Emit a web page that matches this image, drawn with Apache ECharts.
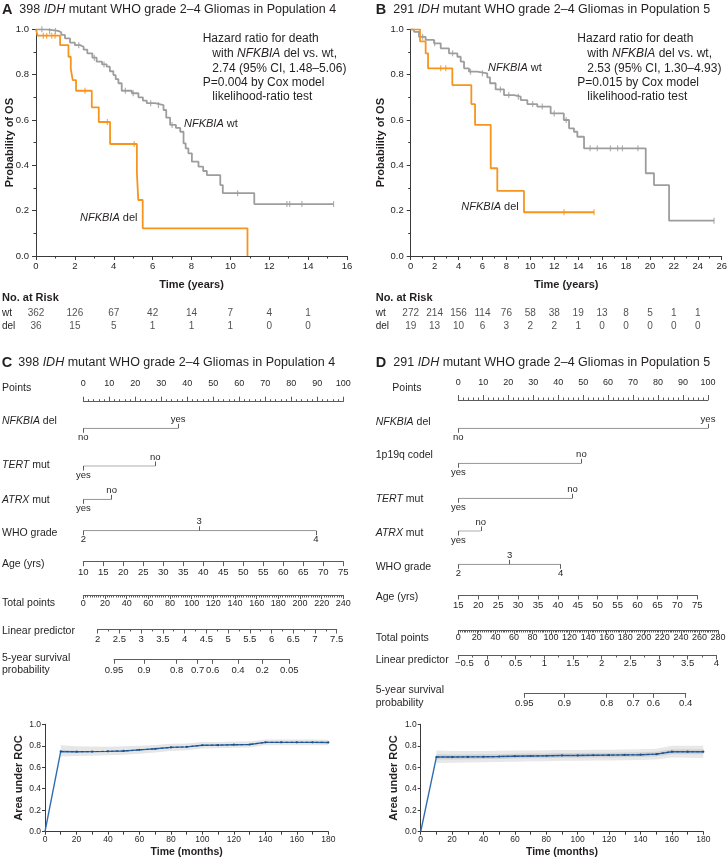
<!DOCTYPE html>
<html><head><meta charset="utf-8">
<script src="https://cdn.jsdelivr.net/npm/echarts@6/dist/echarts.min.js"></script>
<style>html,body{margin:0;padding:0;background:#fff}#c{width:727px;height:858px}</style>
</head><body><div id="c"></div>
<script>
const FONT = '"Liberation Sans", Arial, Helvetica, sans-serif';
const TXT = '#231f20';
const AX = '#3a3a3a';
const NAX = '#5c5c5c';
const ORANGE = '#f7941d';
const GRAY = '#9d9d9d';
const BLUE = '#2f6db3';

// ---------- Panel A: Kaplan-Meier ----------
const kmA_wt_t = [0,0.55,1.14,1.30,1.49,1.75,2.00,2.27,2.45,2.64,2.90,3.12,3.40,3.64,3.80,3.98,4.10,4.24,4.41,4.93,5.27,5.50,5.70,6.13,6.56,6.70,6.90,7.20,7.42,7.59,7.70,7.84,8.02,8.36,8.60,8.79,9.48,9.61,11.23];
const kmA_wt_s = [1.0,0.993,0.987,0.975,0.960,0.941,0.930,0.923,0.910,0.894,0.875,0.857,0.845,0.835,0.815,0.798,0.780,0.762,0.729,0.718,0.700,0.685,0.674,0.666,0.644,0.610,0.578,0.565,0.548,0.497,0.475,0.453,0.416,0.394,0.375,0.357,0.313,0.277,0.229];
const kmA_wt_end = 15.31;
const kmA_wt_cens = [0.3,0.7,1.0,2.2,3.0,3.5,4.6,5.0,5.9,6.3,7.0,10.37,12.91,13.05,13.68,15.31];
const kmA_del_t = [0,0.08,1.24,1.67,1.79,1.89,2.06,2.87,3.23,3.81,5.19,5.26,5.49,10.88];
const kmA_del_s = [1.0,0.972,0.930,0.879,0.825,0.776,0.729,0.656,0.591,0.494,0.370,0.247,0.122,0];
const kmA_del_end = 10.88;
const kmA_del_cens = [0.38,0.55,0.81,0.98,2.52,3.67,5.05];

// ---------- Panel B: Kaplan-Meier ----------
const kmB_wt_t = [0,0.28,0.69,1.25,1.95,2.51,3.20,3.90,4.18,4.46,4.87,5.57,6.40,6.63,7.10,7.80,8.64,9.20,9.75,10.58,11.70,12.80,13.24,13.65,13.93,14.49,19.65,20.34,21.60];
const kmB_wt_s = [1.0,0.989,0.967,0.953,0.938,0.916,0.894,0.879,0.857,0.828,0.813,0.806,0.788,0.762,0.735,0.710,0.703,0.688,0.670,0.659,0.629,0.600,0.563,0.548,0.526,0.475,0.365,0.313,0.156];
const kmB_wt_end = 25.36;
const kmB_wt_cens = [1.0,2.0,3.5,5.0,6.0,7.5,8.2,9.0,10.2,11.0,12.0,13.0,15.0,15.6,16.7,17.3,17.7,19.0,25.36];
const kmB_del_t = [0,0.78,1.25,1.45,3.48,5.07,5.38,6.69,7.24,9.47];
const kmB_del_s = [1.0,0.947,0.894,0.828,0.754,0.670,0.578,0.387,0.287,0.193];
const kmB_del_end = 15.33;
const kmB_del_cens = [2.51,2.93,12.82,15.33];

// ---------- Numbers at risk ----------
const riskA_times = [0,2,4,6,8,10,12,14];
const riskA_wt = [362,126,67,42,14,7,4,1];
const riskA_del = [36,15,5,1,1,1,0,0];
const riskB_times = [0,2,4,6,8,10,12,14,16,18,20,22,24];
const riskB_wt = [272,214,156,114,76,58,38,19,13,8,5,1,1];
const riskB_del = [19,13,10,6,3,2,2,1,0,0,0,0,0];
const riskRows = ['wt','del'];

// ---------- Nomogram C ----------
const nomC_nfkbia_levels = ['no','yes'];   const nomC_nfkbia_pts = [0,36.5];
const nomC_tert_levels = ['yes','no'];     const nomC_tert_pts = [0,27.7];
const nomC_atrx_levels = ['yes','no'];     const nomC_atrx_pts = [0,10.9];
const nomC_who_levels = ['2','3','4'];     const nomC_who_pts = [0,44.6,89.5];
const nomC_surv_labels = ['0.95','0.9','0.8','0.7','0.6','0.4','0.2','0.05'];
const nomC_surv_lp = [2.375,3.066,3.818,4.301,4.647,5.229,5.788,6.410];

// ---------- Nomogram D ----------
const nomD_nfkbia_levels = ['no','yes'];   const nomD_nfkbia_pts = [0,100];
const nomD_codel_levels = ['yes','no'];    const nomD_codel_pts = [0,49.3];
const nomD_tert_levels = ['yes','no'];     const nomD_tert_pts = [0,45.7];
const nomD_atrx_levels = ['yes','no'];     const nomD_atrx_pts = [0,9.0];
const nomD_who_levels = ['2','3','4'];     const nomD_who_pts = [0,20.6,41.0];
const nomD_surv_labels = ['0.95','0.9','0.8','0.7','0.6','0.4'];
const nomD_surv_lp = [0.651,1.349,2.088,2.552,2.901,3.466];

// ---------- Time-dependent AUC ----------
const rocMonths = [0,10,20,30,40,50,60,70,80,90,100,110,120,130,140,150,160,170,180];
const rocC_auc = [0,0.747,0.745,0.746,0.748,0.752,0.762,0.772,0.785,0.790,0.805,0.806,0.810,0.812,0.832,0.832,0.832,0.832,0.831];
const rocC_lo = [0.700,0.705,0.708,0.712,0.716,0.725,0.737,0.752,0.758,0.774,0.776,0.781,0.784,0.805,0.805,0.805,0.805,0.805];
const rocC_hi = [0.805,0.795,0.793,0.792,0.795,0.800,0.807,0.818,0.822,0.835,0.836,0.839,0.840,0.858,0.858,0.858,0.858,0.857];
const rocD_auc = [0,0.695,0.695,0.697,0.698,0.700,0.703,0.705,0.707,0.710,0.710,0.712,0.713,0.715,0.717,0.722,0.745,0.745,0.745];
const rocD_lo = [0.640,0.642,0.645,0.647,0.649,0.652,0.655,0.657,0.660,0.660,0.662,0.664,0.666,0.668,0.673,0.690,0.688,0.686];
const rocD_hi = [0.756,0.752,0.752,0.752,0.753,0.755,0.757,0.758,0.760,0.760,0.762,0.763,0.765,0.767,0.772,0.800,0.800,0.800];
const rocD_lo2 = [0.672,0.673,0.675,0.676,0.678,0.681,0.683,0.685,0.688,0.688,0.690,0.691,0.693,0.695,0.700,0.722,0.722,0.722];
const rocD_hi2 = [0.720,0.718,0.719,0.720,0.722,0.725,0.727,0.729,0.732,0.732,0.734,0.735,0.737,0.739,0.744,0.768,0.768,0.768];

// ================= builders =================
const grids = [], xAxes = [], yAxes = [], series = [], graphics = [];
const addGrid = g => { grids.push(Object.assign({containLabel:false, outerBoundsMode:'none'}, g)); return grids.length-1; };
const addX = a => { xAxes.push(a); return xAxes.length-1; };
const addY = a => { yAxes.push(a); return yAxes.length-1; };
const lbl = (size, extra) => Object.assign({fontFamily:FONT, fontSize:size, color:TXT}, extra||{});

function kmPath(ts, ss, end){
  const d = [[ts[0], ss[0]]];
  for (let i=1;i<ts.length;i++){ d.push([ts[i], ss[i-1]]); d.push([ts[i], ss[i]]); }
  if (end > ts[ts.length-1]) d.push([end, ss[ss.length-1]]);
  return d;
}
function kmAt(ts, ss, t){ let s = ss[0]; for (let i=0;i<ts.length;i++) if (ts[i] <= t) s = ss[i]; return s; }

function kmPanel(o){
  const g = addGrid({left:o.left, top:29.3, width:311, height:226.7});
  const x = addX({gridIndex:g, type:'value', min:0, max:o.xmax, interval:2,
    name:'Time (years)', nameLocation:'middle', nameGap:23, nameMoveOverlap:false,
    nameTextStyle:lbl(11,{fontWeight:'bold'}),
    axisLine:{show:true, onZero:false, lineStyle:{color:AX, width:1}},
    axisTick:{show:true, length:4, lineStyle:{color:AX}},
    minorTick:{show:true, splitNumber:2, length:2.5, lineStyle:{color:AX}},
    axisLabel:lbl(9.5,{margin:5}), splitLine:{show:false}, minorSplitLine:{show:false}});
  const y = addY({gridIndex:g, type:'value', min:0, max:1, interval:0.2,
    name:'Probability of OS', nameLocation:'middle', nameRotate:90, nameGap:o.nameGap, nameMoveOverlap:false,
    nameTextStyle:lbl(11,{fontWeight:'bold'}),
    axisLine:{show:true, onZero:false, lineStyle:{color:AX, width:1}},
    axisTick:{show:true, length:4, lineStyle:{color:AX}},
    minorTick:{show:true, splitNumber:2, length:2.5, lineStyle:{color:AX}},
    axisLabel:lbl(9.5,{margin:7, formatter:v=>v.toFixed(1)}), splitLine:{show:false}, minorSplitLine:{show:false}});
  const curves = [
    {t:o.wt_t, s:o.wt_s, end:o.wt_end, c:o.wt_c, col:GRAY},
    {t:o.del_t, s:o.del_s, end:o.del_end, c:o.del_c, col:ORANGE}
  ];
  curves.forEach(cv => {
    series.push({type:'line', xAxisIndex:x, yAxisIndex:y, data:kmPath(cv.t, cv.s, cv.end), symbol:'none',
      lineStyle:{color:cv.col, width:1.8}, silent:true, z:3});
    series.push({type:'scatter', xAxisIndex:x, yAxisIndex:y, data:cv.c.map(t=>[t, kmAt(cv.t, cv.s, t)]),
      symbol:'rect', symbolSize:[1.2,6], itemStyle:{color:cv.col}, silent:true, z:4});
  });
}
kmPanel({left:36, xmax:16, nameGap:21, wt_t:kmA_wt_t, wt_s:kmA_wt_s, wt_end:kmA_wt_end, wt_c:kmA_wt_cens,
  del_t:kmA_del_t, del_s:kmA_del_s, del_end:kmA_del_end, del_c:kmA_del_cens});
kmPanel({left:410.7, xmax:26, nameGap:24, wt_t:kmB_wt_t, wt_s:kmB_wt_s, wt_end:kmB_wt_end, wt_c:kmB_wt_cens,
  del_t:kmB_del_t, del_s:kmB_del_s, del_end:kmB_del_end, del_c:kmB_del_cens});

function riskTable(left, xmax, times, wt, del, margin){
  const g = addGrid({left:left, top:313.3, width:311, height:12.7});
  const x = addX({gridIndex:g, type:'value', min:0, max:xmax, show:false});
  const y = addY({gridIndex:g, type:'category', data:riskRows, inverse:true, boundaryGap:false,
    axisLine:{show:false}, axisTick:{show:false}, splitLine:{show:false},
    axisLabel:lbl(10,{align:'left', margin:margin, interval:0, hideOverlap:false})});
  const data = [];
  times.forEach((t,i)=>{ data.push([t,0,wt[i]]); data.push([t,1,del[i]]); });
  series.push({type:'scatter', xAxisIndex:x, yAxisIndex:y, data, symbolSize:1, itemStyle:{color:'rgba(0,0,0,0)'},
    label:lbl(10,{show:true, position:'inside', formatter:p=>String(p.value[2])}), silent:true});
}
riskTable(36, 16, riskA_times, riskA_wt, riskA_del, 34);
riskTable(410.7, 26, riskB_times, riskB_wt, riskB_del, 35);

// ---------- nomogram scales ----------
function scaleAxis(o){
  const g = addGrid({left:o.left, top:o.y, width:o.width, height:0});
  const ax = {gridIndex:g, type:'value', min:o.min, max:o.max, position:o.pos||'bottom',
    axisLine:{show:true, onZero:false, lineStyle:{color:NAX, width:1}},
    axisTick:{show:true, length:o.tick||4.5, lineStyle:{color:NAX}},
    minorTick:{show:!!o.minor, splitNumber:o.minor||5, length:2.5, lineStyle:{color:NAX}},
    axisLabel:lbl(o.fs||9,{margin:o.margin, showMinLabel:true, showMaxLabel:true, hideOverlap:false}),
    splitLine:{show:false}, minorSplitLine:{show:false}};
  if (o.interval != null) ax.interval = o.interval;
  if (o.custom){ ax.axisTick.customValues = o.custom; ax.axisLabel.customValues = o.custom; }
  if (o.fmt) ax.axisLabel.formatter = o.fmt;
  if (o.rich) ax.axisLabel.rich = o.rich;
  addX(ax);
  addY({gridIndex:g, type:'value', show:false, min:0, max:1});
}
function nearestLabel(positions, labels){
  return v => { let b = 0; positions.forEach((p,i)=>{ if (Math.abs(p-v) < Math.abs(positions[b]-v)) b = i; }); return labels[b]; };
}
function catRow(o){
  const g = addGrid({left:o.left, top:o.y, width:o.width, height:0});
  const order = o.pts.map((p,i)=>i).sort((a,b)=>o.pts[a]-o.pts[b]);
  const below = [], above = [];
  order.forEach((idx,k)=> (k%2===0 ? below : above).push(o.pts[idx]));
  const f = nearestLabel(o.pts, o.levels);
  const mk = (pos, vals) => addX({gridIndex:g, type:'value', min:0, max:100, position:pos,
    axisLine:{show:false}, splitLine:{show:false}, minorTick:{show:false},
    axisTick:{show:true, length:4.5, customValues:vals, lineStyle:{color:NAX}},
    axisLabel:lbl(9.5,{margin:4, customValues:vals, formatter:f})});
  const xb = mk('bottom', below);
  mk('top', above);
  const y = addY({gridIndex:g, type:'value', show:false, min:0, max:1});
  series.push({type:'line', xAxisIndex:xb, yAxisIndex:y, symbol:'none', silent:true,
    data:[[Math.min(...o.pts),0],[Math.max(...o.pts),0]], lineStyle:{color:NAX, width:1}});
}
const minusFmt = v => (v < 0 ? '{s|\u2212' + (-v) + '}' : String(v));

// Nomogram C
scaleAxis({left:83.3, width:260, y:401.7, min:0, max:100, interval:10, pos:'top', minor:5, margin:14, tick:5});
catRow({left:83.3, width:260, y:428.3, levels:nomC_nfkbia_levels, pts:nomC_nfkbia_pts});
catRow({left:83.3, width:260, y:466, levels:nomC_tert_levels, pts:nomC_tert_pts});
catRow({left:83.3, width:260, y:499.3, levels:nomC_atrx_levels, pts:nomC_atrx_pts});
catRow({left:83.3, width:260, y:530.7, levels:nomC_who_levels, pts:nomC_who_pts});
scaleAxis({left:83.3, width:260, y:561.7, min:10, max:75, interval:5, margin:5.5, fs:9.5});
scaleAxis({left:83.3, width:260, y:595, min:0, max:240, interval:20, minor:10, margin:4.5, tick:4});
scaleAxis({left:97.7, width:239, y:629, min:2, max:7.5, interval:0.5, minor:2, margin:5, fs:9.5});
scaleAxis({left:114, width:175.3, y:659.3, min:nomC_surv_lp[0], max:nomC_surv_lp[nomC_surv_lp.length-1],
  custom:nomC_surv_lp, fmt:nearestLabel(nomC_surv_lp, nomC_surv_labels), margin:6, fs:9.5});

// Nomogram D
scaleAxis({left:458.3, width:249.7, y:400, min:0, max:100, interval:10, pos:'top', minor:5, margin:13, tick:5});
catRow({left:458.3, width:249.7, y:428.3, levels:nomD_nfkbia_levels, pts:nomD_nfkbia_pts});
catRow({left:458.3, width:249.7, y:463.3, levels:nomD_codel_levels, pts:nomD_codel_pts});
catRow({left:458.3, width:249.7, y:498.3, levels:nomD_tert_levels, pts:nomD_tert_pts});
catRow({left:458.3, width:249.7, y:531, levels:nomD_atrx_levels, pts:nomD_atrx_pts});
catRow({left:458.3, width:249.7, y:564.3, levels:nomD_who_levels, pts:nomD_who_pts});
scaleAxis({left:458.3, width:239, y:595, min:15, max:75, interval:5, margin:5.5, fs:9.5});
scaleAxis({left:458.3, width:259.7, y:630, min:0, max:280, interval:20, minor:10, margin:3, tick:4});
scaleAxis({left:458.3, width:258, y:655, min:-0.5, max:4, interval:0.5, minor:2, margin:3, fs:9.5, fmt:minusFmt,
  rich:{s:{fontFamily:FONT, fontSize:9.5, color:TXT, padding:[0,0,0,12]}}});
scaleAxis({left:524.3, width:161.4, y:693.3, min:nomD_surv_lp[0], max:nomD_surv_lp[nomD_surv_lp.length-1],
  custom:nomD_surv_lp, fmt:nearestLabel(nomD_surv_lp, nomD_surv_labels), margin:5, fs:9.5});

// ---------- AUC panels ----------
function rocPanel(o){
  const g = addGrid({left:o.left, top:724.3, width:o.width, height:107.4});
  const x = addX({gridIndex:g, type:'value', min:0, max:180, interval:10,
    name:'Time (months)', nameLocation:'middle', nameGap:15, nameMoveOverlap:false, nameTextStyle:lbl(10.5,{fontWeight:'bold'}),
    axisLine:{show:true, onZero:false, lineStyle:{color:AX}}, axisTick:{show:true, length:3, lineStyle:{color:AX}},
    axisLabel:lbl(8.5,{margin:3, formatter:v=> (v%20===0 ? String(v) : '')}), splitLine:{show:false}});
  const y = addY({gridIndex:g, type:'value', min:0, max:1, interval:0.2,
    name:'Area under ROC', nameLocation:'middle', nameRotate:90, nameGap:21, nameMoveOverlap:false, nameTextStyle:lbl(11,{fontWeight:'bold'}),
    axisLine:{show:true, onZero:false, lineStyle:{color:AX}}, axisTick:{show:true, length:3, lineStyle:{color:AX}},
    axisLabel:lbl(8.5,{margin:4, formatter:v=>v.toFixed(1)}), splitLine:{show:false}});
  const m = rocMonths.slice(1);
  o.bands.forEach((b,k) => {
    series.push({type:'custom', xAxisIndex:x, yAxisIndex:y, data:[[m[0], b.lo[0]]], silent:true, z:1+k, clip:false,
      renderItem:(params, api) => {
        const up = m.map((t,i)=>api.coord([t, b.hi[i]]));
        const dn = m.map((t,i)=>api.coord([t, b.lo[i]])).reverse();
        return {type:'polygon', shape:{points:up.concat(dn)}, style:{fill:b.color}};
      }});
  });
  series.push({type:'line', xAxisIndex:x, yAxisIndex:y, symbol:'none', silent:true,
    data:rocMonths.map((t,i)=>[t,o.auc[i]]), lineStyle:{color:BLUE, width:1.4}, z:5});
  series.push({type:'line', xAxisIndex:x, yAxisIndex:y, symbol:'circle', symbolSize:2.2, silent:true,
    itemStyle:{color:'#1d4f86'},
    data:m.map((t,i)=>[t,o.auc[i+1]]), lineStyle:{color:'#1d4f86', width:1.1, type:[3,2]}, z:6});
}
rocPanel({left:45, width:283.3, auc:rocC_auc, bands:[{lo:rocC_lo, hi:rocC_hi, color:'#e6e6e6'}]});
rocPanel({left:420.7, width:282.6, auc:rocD_auc, bands:[{lo:rocD_lo, hi:rocD_hi, color:'#e8e8e8'},{lo:rocD_lo2, hi:rocD_hi2, color:'#d2d2d2'}]});

// ---------- text ----------
function txt(x, y, text, size, extra){
  const st = Object.assign({text, fontFamily:FONT, fontSize:size, fill:TXT, verticalAlign:'middle', align:'left',
    rich:{i:{fontStyle:'italic', fontFamily:FONT, fontSize:size, fill:TXT}}}, extra||{});
  graphics.push({type:'text', x, y, silent:true, z:100, style:st});
}
txt(2, 10, 'A', 14.5, {fontWeight:'bold'});
txt(19.3, 10, '398 {i|IDH} mutant WHO grade 2\u20134 Gliomas in Population 4', 12.5);
txt(375.7, 10, 'B', 14.5, {fontWeight:'bold'});
txt(393.3, 10, '291 {i|IDH} mutant WHO grade 2\u20134 Gliomas in Population 5', 12.5);
txt(1.7, 363, 'C', 14.5, {fontWeight:'bold'});
txt(18.3, 363, '398 {i|IDH} mutant WHO grade 2\u20134 Gliomas in Population 4', 12.5);
txt(375.7, 363, 'D', 14.5, {fontWeight:'bold'});
txt(393.3, 363, '291 {i|IDH} mutant WHO grade 2\u20134 Gliomas in Population 5', 12.5);

function hazard(x0, x1, hr, p){
  txt(x0, 38.3, 'Hazard ratio for death', 12);
  txt(x1, 53.3, 'with {i|NFKBIA} del vs. wt,', 12);
  txt(x1, 68.3, hr, 12);
  txt(x0, 82.3, p, 12);
  txt(x1, 96.7, 'likelihood-ratio test', 12);
}
hazard(202.7, 212.3, '2.74 (95% CI, 1.48\u20135.06)', 'P=0.004 by Cox model');
hazard(577.3, 587.3, '2.53 (95% CI, 1.30\u20134.93)', 'P=0.015 by Cox model');
txt(184, 124, '{i|NFKBIA} wt', 11);
txt(80, 218.3, '{i|NFKBIA} del', 11);
txt(488, 68.3, '{i|NFKBIA} wt', 11);
txt(461.3, 206.7, '{i|NFKBIA} del', 11);
txt(2, 298, 'No. at Risk', 11, {fontWeight:'bold'});
txt(375.7, 298.3, 'No. at Risk', 11, {fontWeight:'bold'});

const rowC = [['Points',387.7],['{i|NFKBIA} del',421],['{i|TERT} mut',465],['{i|ATRX} mut',500],['WHO grade',533.3],
  ['Age (yrs)',564],['Total points',602.7],['Linear predictor',630.7],['5-year survival',658.3],['probability',670]];
rowC.forEach(r => txt(2, r[1], r[0], 10.5));
const rowD = [['{i|NFKBIA} del',421.7],['1p19q codel',455],['{i|TERT} mut',499.3],['{i|ATRX} mut',533.3],['WHO grade',566.7],
  ['Age (yrs)',596.7],['Total points',637.7],['Linear predictor',660],['5-year survival',690],['probability',703.3]];
txt(392.3, 387.7, 'Points', 10.5);
rowD.forEach(r => txt(375.7, r[1], r[0], 10.5));

const chart = echarts.init(document.getElementById('c'), null, {renderer:'canvas', width:727, height:858});
chart.setOption({animation:false, backgroundColor:'#fff', grid:grids, xAxis:xAxes, yAxis:yAxes, series, graphic:graphics});
</script></body></html>
